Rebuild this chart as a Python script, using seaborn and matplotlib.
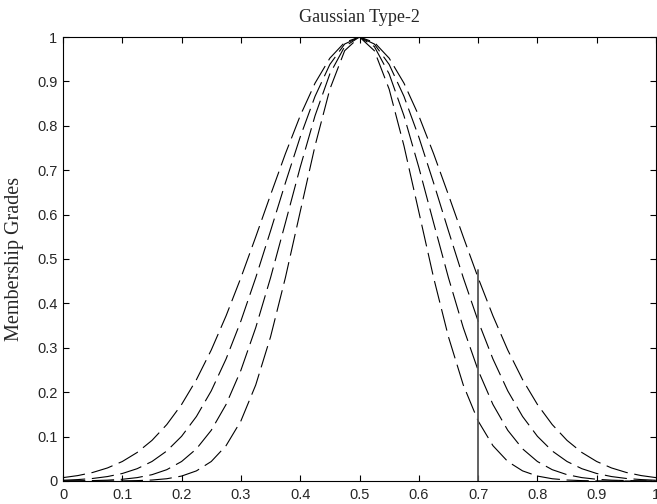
"""
Gaussian Type-2 membership functions (four widths around 0.5)
"""

import pandas as pd
import matplotlib
matplotlib.use("Agg")
import matplotlib.pyplot as plt
import seaborn as sns

# ─── Theme ───────────────────────────────────────────────────────
sns.set_style("ticks")
plt.rcParams.update({
    "font.family": ["Liberation Sans", "DejaVu Sans"],
    "axes.linewidth": 0.8,
    "xtick.direction": "in",
    "ytick.direction": "in",
    "xtick.top": True,
    "ytick.right": True,
})

# ─── Data ────────────────────────────────────────────────────────
x_vals = [0.000, 0.025, 0.050, 0.075, 0.100, 0.125, 0.150, 0.175, 0.200, 0.225,
          0.250, 0.275, 0.300, 0.325, 0.350, 0.375, 0.400, 0.425, 0.450, 0.475,
          0.500, 0.525, 0.550, 0.575, 0.600, 0.625, 0.650, 0.675, 0.700, 0.725,
          0.750, 0.775, 0.800, 0.825, 0.850, 0.875, 0.900, 0.925, 0.950, 0.975,
          1.000]

mf_widest = [0.0076, 0.0122, 0.0192, 0.0294, 0.0439, 0.0642, 0.0914, 0.1271, 0.1724, 0.2283,
             0.2950, 0.3720, 0.4578, 0.5498, 0.6444, 0.7370, 0.8226, 0.8960, 0.9523, 0.9879,
             1.0000, 0.9879, 0.9523, 0.8960, 0.8226, 0.7370, 0.6444, 0.5498, 0.4578, 0.3720,
             0.2950, 0.2283, 0.1724, 0.1271, 0.0914, 0.0642, 0.0439, 0.0294, 0.0192, 0.0122,
             0.0076]

mf_wide = [0.0017, 0.0032, 0.0057, 0.0100, 0.0169, 0.0277, 0.0439, 0.0676, 0.1007, 0.1453,
           0.2030, 0.2749, 0.3604, 0.4578, 0.5633, 0.6713, 0.7748, 0.8663, 0.9382, 0.9842,
           1.0000, 0.9842, 0.9382, 0.8663, 0.7748, 0.6713, 0.5633, 0.4578, 0.3604, 0.2749,
           0.2030, 0.1453, 0.1007, 0.0676, 0.0439, 0.0277, 0.0169, 0.0100, 0.0057, 0.0032,
           0.0017]

mf_narrow = [0.0002, 0.0004, 0.0009, 0.0019, 0.0039, 0.0076, 0.0142, 0.0255, 0.0439, 0.0724,
             0.1142, 0.1724, 0.2494, 0.3453, 0.4578, 0.5813, 0.7066, 0.8226, 0.9169, 0.9785,
             1.0000, 0.9785, 0.9169, 0.8226, 0.7066, 0.5813, 0.4578, 0.3453, 0.2494, 0.1724,
             0.1142, 0.0724, 0.0439, 0.0255, 0.0142, 0.0076, 0.0039, 0.0019, 0.0009, 0.0004,
             0.0002]

mf_narrowest = [0.0000, 0.0000, 0.0000, 0.0001, 0.0003, 0.0009, 0.0022, 0.0051, 0.0111, 0.0228,
                0.0439, 0.0796, 0.1353, 0.2163, 0.3247, 0.4578, 0.6065, 0.7548, 0.8825, 0.9692,
                1.0000, 0.9692, 0.8825, 0.7548, 0.6065, 0.4578, 0.3247, 0.2163, 0.1353, 0.0796,
                0.0439, 0.0228, 0.0111, 0.0051, 0.0022, 0.0009, 0.0003, 0.0001, 0.0000, 0.0000,
                0.0000]

marker_x = [0.7, 0.7]
marker_y = [0.0, 0.475]

ticks = [0, 0.1, 0.2, 0.3, 0.4, 0.5, 0.6, 0.7, 0.8, 0.9, 1]
tick_labels = ["0", "0.1", "0.2", "0.3", "0.4", "0.5", "0.6", "0.7", "0.8", "0.9", "1"]

curves = {"widest": mf_widest, "wide": mf_wide,
          "narrow": mf_narrow, "narrowest": mf_narrowest}
df = pd.concat(
    [pd.DataFrame({"x": x_vals, "y": vals, "curve": name}) for name, vals in curves.items()],
    ignore_index=True,
)

# ─── Figure ──────────────────────────────────────────────────────
fig = plt.figure(figsize=(6.57, 5.04), dpi=100)
ax = fig.add_axes([63 / 657, 23 / 504, 593 / 657, 444 / 504])

sns.lineplot(data=df, x="x", y="y", hue="curve", style="curve",
             palette=["black"] * 4, dashes=[(20, 6)] * 4,
             linewidth=0.8, estimator=None, sort=False, legend=False, ax=ax)
ax.plot(marker_x, marker_y, color="#555555", linewidth=1.3)

ax.set_xlim(0, 1)
ax.set_ylim(0, 1)
ax.set_xticks(ticks)
ax.set_xticklabels(tick_labels)
ax.set_yticks(ticks)
ax.set_yticklabels(tick_labels)
ax.tick_params(labelsize=10.5, length=4, width=0.8, color="black")
ax.tick_params(axis="x", pad=5)
ax.tick_params(axis="y", pad=4)
for s in ax.spines.values():
    s.set_visible(True)
    s.set_color("black")

ax.set_xlabel("")
ax.set_title("Gaussian Type-2", family="Liberation Serif", fontsize=13, pad=11)
ax.set_ylabel("Membership Grades", family="Liberation Serif", fontsize=14.5)
ax.yaxis.set_label_coords(-0.066, 0.5)

fig.savefig("out.png", dpi=100)
